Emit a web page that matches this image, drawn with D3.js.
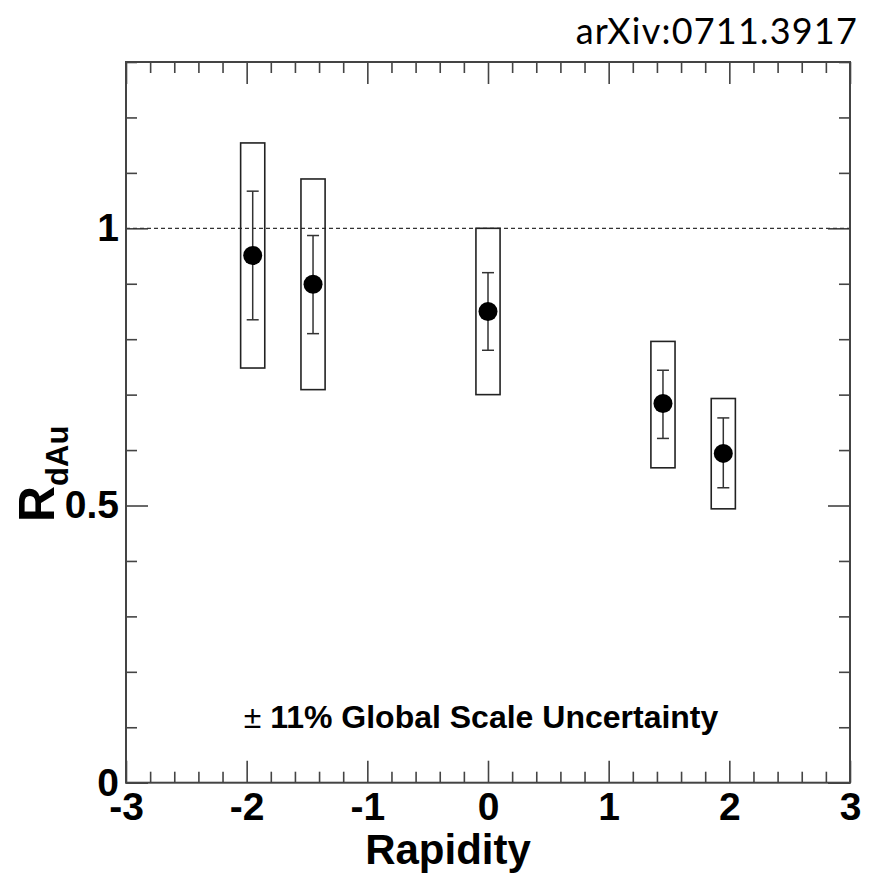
<!DOCTYPE html>
<html><head><meta charset="utf-8">
<script src="https://cdn.jsdelivr.net/npm/d3@7"></script>
<style>body{margin:0;background:#fff}</style>
</head><body>
<svg id="c" width="873" height="874"></svg>
<script>
// ---- data ----
const rapidity = [-1.95, -1.45, 0.0, 1.45, 1.95];
const rdau     = [0.951, 0.899, 0.850, 0.684, 0.594];
const statLo   = [0.835, 0.810, 0.780, 0.621, 0.532];
const statHi   = [1.067, 0.987, 0.920, 0.744, 0.658];
const sysLo    = [0.748, 0.709, 0.700, 0.568, 0.494];
const sysHi    = [1.154, 1.089, 1.000, 0.796, 0.693];
const xTickLabels = [-3, -2, -1, 0, 1, 2, 3];
const yTickLabels = [0, 0.5, 1];
const boxHalfWidth = 0.1;

const svg = d3.select("#c");
const L = 126, R = 850, T = 62, B = 782.7;
const x = d3.scaleLinear().domain([-3, 3]).range([L, R]);
const y = d3.scaleLinear().domain([0, 1.3]).range([B, T]);
const frameCol = "#444";
const font = "Liberation Sans, Arial, sans-serif";

const xMinor = d3.range(-3, 3.0001, 0.2).map(v => +v.toFixed(2)).filter(v => Math.abs(v - Math.round(v)) > 1e-6);
const yMinor = d3.range(0, 1.3001, 0.1).map(v => +v.toFixed(2)).filter(v => Math.abs(v*2 - Math.round(v*2)) > 1e-6);

function styleAxis(g){ g.select(".domain").remove(); g.selectAll("line").attr("stroke", frameCol).attr("stroke-width", 1.6); }

// bottom
svg.append("g").attr("transform",`translate(0,${B})`)
  .call(d3.axisBottom(x).tickValues(xTickLabels).tickSizeInner(-22).tickSizeOuter(0).tickPadding(10).tickFormat(d => String(d)))
  .call(styleAxis)
  .call(g => g.selectAll("text").attr("font-family",font).attr("font-weight","bold").attr("font-size",39).attr("fill","#000"));
svg.append("g").attr("transform",`translate(0,${B})`)
  .call(d3.axisBottom(x).tickValues(xMinor).tickSizeInner(-11).tickSizeOuter(0).tickFormat(""))
  .call(styleAxis);
// top
svg.append("g").attr("transform",`translate(0,${T})`)
  .call(d3.axisTop(x).tickValues(xTickLabels).tickSizeInner(-22).tickSizeOuter(0).tickFormat(""))
  .call(styleAxis);
svg.append("g").attr("transform",`translate(0,${T})`)
  .call(d3.axisTop(x).tickValues(xMinor).tickSizeInner(-11).tickSizeOuter(0).tickFormat(""))
  .call(styleAxis);
// left
svg.append("g").attr("transform",`translate(${L},0)`)
  .call(d3.axisLeft(y).tickValues(yTickLabels).tickSizeInner(-22).tickSizeOuter(0).tickPadding(7).tickFormat(d => String(d)))
  .call(styleAxis)
  .call(g => g.selectAll("text").attr("font-family",font).attr("font-weight","bold").attr("font-size",39).attr("fill","#000"));
svg.append("g").attr("transform",`translate(${L},0)`)
  .call(d3.axisLeft(y).tickValues(yMinor).tickSizeInner(-11).tickSizeOuter(0).tickFormat(""))
  .call(styleAxis);
// right
svg.append("g").attr("transform",`translate(${R},0)`)
  .call(d3.axisRight(y).tickValues(yTickLabels).tickSizeInner(-22).tickSizeOuter(0).tickFormat(""))
  .call(styleAxis);
svg.append("g").attr("transform",`translate(${R},0)`)
  .call(d3.axisRight(y).tickValues(yMinor).tickSizeInner(-11).tickSizeOuter(0).tickFormat(""))
  .call(styleAxis);

// dashed line at 1
svg.append("line").attr("x1", x(-3)).attr("x2", x(3)).attr("y1", y(1)).attr("y2", y(1))
  .attr("stroke", "#333").attr("stroke-width", 1.3).attr("stroke-dasharray", "4,3");

// frame
svg.append("rect").attr("x", L).attr("y", T).attr("width", R - L).attr("height", B - T)
  .attr("fill", "none").attr("stroke", frameCol).attr("stroke-width", 2);

const idx = d3.range(rapidity.length);
// systematic boxes
svg.append("g").selectAll("rect").data(idx).join("rect")
  .attr("x", i => x(rapidity[i] - boxHalfWidth))
  .attr("width", i => x(rapidity[i] + boxHalfWidth) - x(rapidity[i] - boxHalfWidth))
  .attr("y", i => y(sysHi[i]))
  .attr("height", i => y(sysLo[i]) - y(sysHi[i]))
  .attr("fill", "none").attr("stroke", "#222").attr("stroke-width", 1.6);
// stat errors
const eg = svg.append("g").attr("stroke", "#333").attr("stroke-width", 1.5);
eg.selectAll("line.v").data(idx).join("line").attr("class","v")
  .attr("x1", i => x(rapidity[i])).attr("x2", i => x(rapidity[i]))
  .attr("y1", i => y(statLo[i])).attr("y2", i => y(statHi[i]));
eg.selectAll("line.t").data(idx).join("line").attr("class","t")
  .attr("x1", i => x(rapidity[i]) - 6).attr("x2", i => x(rapidity[i]) + 6)
  .attr("y1", i => y(statHi[i])).attr("y2", i => y(statHi[i]));
eg.selectAll("line.b").data(idx).join("line").attr("class","b")
  .attr("x1", i => x(rapidity[i]) - 6).attr("x2", i => x(rapidity[i]) + 6)
  .attr("y1", i => y(statLo[i])).attr("y2", i => y(statLo[i]));
// points
svg.append("g").selectAll("circle").data(idx).join("circle")
  .attr("cx", i => x(rapidity[i])).attr("cy", i => y(rdau[i])).attr("r", 9.5).attr("fill", "#000");

// titles
svg.append("text").attr("x", 448).attr("y", 864).attr("text-anchor", "middle")
  .attr("font-family",font).attr("font-weight","bold").attr("font-size",42)
  .text("Rapidity");
const yt = svg.append("text").attr("transform", "translate(54,522) rotate(-90)")
  .attr("font-family",font).attr("font-weight","bold").attr("font-size",50);
yt.append("tspan").text("R");
yt.append("tspan").attr("font-size", 31).attr("dy", 14).text("dAu");

svg.append("text").attr("x", 481).attr("y", 728).attr("text-anchor", "middle")
  .attr("font-family",font).attr("font-weight","bold").attr("font-size",32)
  .html('<tspan font-weight="normal">±</tspan> 11% Global Scale Uncertainty');

svg.append("text").attr("x", 858).attr("y", 44).attr("text-anchor", "end")
  .attr("font-family","Lato, Open Sans, sans-serif").attr("font-size",36).attr("letter-spacing", 1.2)
  .text("arXiv:0711.3917");
</script>
</body></html>
